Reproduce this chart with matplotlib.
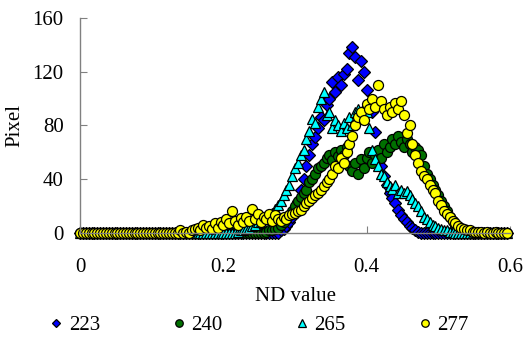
import numpy as np
import matplotlib
matplotlib.use("Agg")
import matplotlib.pyplot as plt

plt.rcParams["font.family"] = ["Liberation Serif", "DejaVu Serif"]

# ND value bins (step 0.004)
nd = np.round(np.arange(150) * 0.004, 3)

# pixel counts, one per ND bin
px_223 = [0] * 70 + [
    2, 3, 5, 8, 12, 18, 24, 32, 40, 50,
    58, 66, 71, 78, 86, 84, 95, 100, 112, 105,
    116, 110, 118, 122, 134, 138, 131, 114, 128, 120,
    106, 96, 90, 75, 60, 50, 42, 36, 30, 26,
    22, 17, 13, 10, 8, 5, 4, 2, 1,
] + [0] * 31

px_240 = [0] * 65 + [
    1, 2, 2, 3, 4, 6, 8, 10, 13, 16,
    20, 24, 27, 30, 32, 38, 40, 44, 48, 50,
    52, 56, 58, 54, 60, 57, 62, 58, 64, 50,
    46, 52, 44, 55, 48, 56, 60, 52, 58, 62,
    56, 66, 60, 64, 70, 66, 72, 68, 64, 70,
    66, 60, 64, 62, 58, 50, 44, 40, 36, 32,
    28, 24, 20, 16, 12, 9, 6, 4, 3, 2,
    1, 1,
] + [0] * 13

px_265 = [0] * 55 + [
    1, 2, 2, 3, 4, 5, 6, 8, 8, 10,
    11, 13, 15, 18, 21, 24, 28, 32, 36, 42,
    48, 52, 58, 62, 70, 76, 85, 82, 94, 100,
    105, 88, 90, 78, 84, 80, 76, 82, 78, 86,
    80, 90, 92, 88, 94, 90, 78, 62, 55, 50,
    44, 42, 38, 35, 33, 36, 30, 32, 30, 31,
    28, 25, 22, 20, 16, 12, 10, 8, 6, 5,
    4, 3, 2, 2, 1, 1,
] + [0] * 19

px_277 = [0] * 35 + [
    2, 0, 1, 0, 2, 3, 4, 2, 6, 4,
    5, 3, 7, 4, 8, 6, 10, 7, 16, 9,
    6, 11, 8, 12, 9, 18, 10, 14, 8, 12,
    10, 14, 9, 13, 10, 9, 12, 10, 13, 14,
    15, 16, 17, 20, 22, 24, 26, 28, 30, 32,
    35, 38, 40, 44, 50, 48, 56, 52, 60, 66,
    72, 80, 86, 90, 84, 96, 92, 100, 94, 110,
    98, 92, 88, 94, 90, 97, 92, 98, 88, 74,
    80, 66, 58, 52, 46, 42, 40, 36, 32, 30,
    24, 21, 16, 14, 12, 9, 7, 5, 4, 3,
    2, 2, 1, 1, 1, 1, 0, 1, 0, 0,
    1, 0, 0, 0, 0,
]

series = [
    ("223", px_223, "D", "#0000ff", 6.0),
    ("240", px_240, "o", "#007000", 7.2),
    ("265", px_265, "^", "#00ffff", 7.2),
    ("277", px_277, "o", "#ffff00", 7.2),
]

fig = plt.figure(figsize=(5.24, 3.38), dpi=100)
ax = fig.add_axes([0.153, 0.311, 0.82, 0.636])

for name, vals, mk, col, ms in series:
    ax.plot(nd, vals, linestyle="none", marker=mk, markersize=ms,
            markerfacecolor=col, markeredgecolor="black",
            markeredgewidth=0.9, label=name, clip_on=False)

ax.set_xlim(0, 0.6)
ax.set_ylim(0, 160)
ax.set_xticks([0, 0.2, 0.4, 0.6])
ax.set_xticklabels(["0", "0.2", "0.4", "0.6"])
ax.set_yticks([0, 40, 80, 120, 160])

for side in ("top", "right"):
    ax.spines[side].set_visible(False)
for side in ("left", "bottom"):
    ax.spines[side].set_color("#808080")
    ax.spines[side].set_linewidth(1.0)

ax.tick_params(axis="both", direction="in", colors="#808080",
               labelcolor="black", labelsize=15, length=5)
ax.tick_params(axis="x", pad=18)
ax.tick_params(axis="y", pad=12)

ax.set_xlabel("ND value", fontsize=15, labelpad=7)
ax.set_ylabel("Pixel", fontsize=15, labelpad=6)

fig.legend(loc="center", bbox_to_anchor=(0.493, 0.038), ncol=4,
           frameon=False, fontsize=15, handletextpad=0.2,
           columnspacing=3.4, markerscale=0.75, handlelength=0.8)

fig.savefig("out.png", dpi=100)
